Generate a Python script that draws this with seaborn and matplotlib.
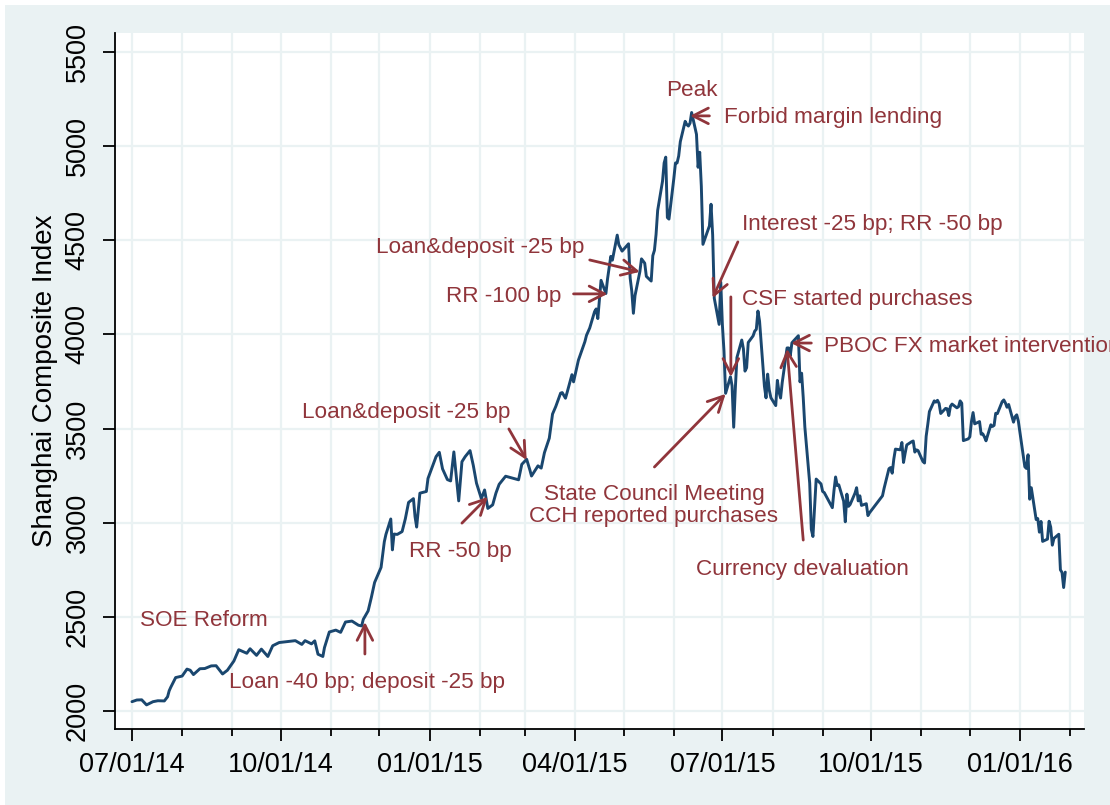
import matplotlib
matplotlib.use("Agg")
import matplotlib.pyplot as plt
import matplotlib.dates as mdates
from matplotlib.patches import Rectangle
import seaborn as sns
import pandas as pd

# ---------------- data ----------------
dates = [
    "2014-07-01", "2014-07-04", "2014-07-07", "2014-07-10", "2014-07-14", "2014-07-17", "2014-07-21",
    "2014-07-23", "2014-07-24", "2014-07-25", "2014-07-28", "2014-07-30", "2014-08-01", "2014-08-04",
    "2014-08-06", "2014-08-08", "2014-08-12", "2014-08-15", "2014-08-19", "2014-08-22", "2014-08-26",
    "2014-08-29", "2014-09-02", "2014-09-05", "2014-09-10", "2014-09-12", "2014-09-16", "2014-09-19",
    "2014-09-23", "2014-09-26", "2014-09-30", "2014-10-10", "2014-10-14", "2014-10-16", "2014-10-20",
    "2014-10-22", "2014-10-24", "2014-10-27", "2014-10-28", "2014-10-31", "2014-11-04", "2014-11-07",
    "2014-11-10", "2014-11-14", "2014-11-18", "2014-11-20", "2014-11-21", "2014-11-24", "2014-11-26",
    "2014-11-28", "2014-12-02", "2014-12-04", "2014-12-05", "2014-12-08", "2014-12-09", "2014-12-10",
    "2014-12-12", "2014-12-15", "2014-12-17", "2014-12-19", "2014-12-22", "2014-12-23", "2014-12-24",
    "2014-12-26", "2014-12-30", "2014-12-31",
    "2015-01-05", "2015-01-07", "2015-01-09", "2015-01-12", "2015-01-14", "2015-01-16", "2015-01-19",
    "2015-01-21", "2015-01-23", "2015-01-26", "2015-01-28", "2015-01-30", "2015-02-02", "2015-02-04",
    "2015-02-06", "2015-02-09", "2015-02-11", "2015-02-13", "2015-02-17", "2015-02-25", "2015-02-27",
    "2015-03-02", "2015-03-04", "2015-03-05", "2015-03-09", "2015-03-11", "2015-03-13", "2015-03-16",
    "2015-03-18", "2015-03-20", "2015-03-23", "2015-03-24", "2015-03-26", "2015-03-27", "2015-03-30",
    "2015-03-31", "2015-04-02", "2015-04-03", "2015-04-07", "2015-04-08", "2015-04-10", "2015-04-13",
    "2015-04-14", "2015-04-15", "2015-04-17", "2015-04-20", "2015-04-21", "2015-04-23", "2015-04-24",
    "2015-04-27", "2015-04-28", "2015-04-30", "2015-05-04", "2015-05-05", "2015-05-06", "2015-05-07",
    "2015-05-08", "2015-05-11", "2015-05-12", "2015-05-14", "2015-05-15", "2015-05-18", "2015-05-19",
    "2015-05-20", "2015-05-21", "2015-05-22", "2015-05-25", "2015-05-26", "2015-05-27", "2015-05-28",
    "2015-05-29", "2015-06-01", "2015-06-02", "2015-06-03", "2015-06-04", "2015-06-05", "2015-06-08",
    "2015-06-09", "2015-06-10", "2015-06-11", "2015-06-12", "2015-06-15", "2015-06-16", "2015-06-17",
    "2015-06-18", "2015-06-19", "2015-06-23", "2015-06-24", "2015-06-25", "2015-06-26", "2015-06-29",
    "2015-06-30", "2015-07-01", "2015-07-02", "2015-07-03", "2015-07-06", "2015-07-07", "2015-07-08",
    "2015-07-09", "2015-07-10", "2015-07-13", "2015-07-14", "2015-07-15", "2015-07-16", "2015-07-17",
    "2015-07-20", "2015-07-21", "2015-07-22", "2015-07-23", "2015-07-24", "2015-07-27", "2015-07-28",
    "2015-07-29", "2015-07-30", "2015-07-31", "2015-08-03", "2015-08-04", "2015-08-05", "2015-08-06",
    "2015-08-07", "2015-08-10", "2015-08-11", "2015-08-12", "2015-08-13", "2015-08-14", "2015-08-17",
    "2015-08-18", "2015-08-19", "2015-08-20", "2015-08-21", "2015-08-24", "2015-08-25", "2015-08-26",
    "2015-08-27", "2015-08-28", "2015-08-31", "2015-09-01", "2015-09-02", "2015-09-07", "2015-09-08",
    "2015-09-09", "2015-09-10", "2015-09-11", "2015-09-14", "2015-09-15", "2015-09-16", "2015-09-17",
    "2015-09-18", "2015-09-21", "2015-09-22", "2015-09-23", "2015-09-24", "2015-09-25", "2015-09-28",
    "2015-09-29", "2015-09-30", "2015-10-08", "2015-10-09", "2015-10-12", "2015-10-13", "2015-10-14",
    "2015-10-15", "2015-10-16", "2015-10-19", "2015-10-20", "2015-10-21", "2015-10-22", "2015-10-23",
    "2015-10-26", "2015-10-27", "2015-10-28", "2015-10-29", "2015-10-30", "2015-11-02", "2015-11-03",
    "2015-11-04", "2015-11-05", "2015-11-06", "2015-11-09", "2015-11-10", "2015-11-11", "2015-11-12",
    "2015-11-13", "2015-11-16", "2015-11-17", "2015-11-18", "2015-11-19", "2015-11-20", "2015-11-23",
    "2015-11-24", "2015-11-25", "2015-11-26", "2015-11-27", "2015-11-30", "2015-12-01", "2015-12-02",
    "2015-12-03", "2015-12-04", "2015-12-07", "2015-12-08", "2015-12-09", "2015-12-10", "2015-12-11",
    "2015-12-14", "2015-12-15", "2015-12-16", "2015-12-17", "2015-12-18", "2015-12-21", "2015-12-22",
    "2015-12-23", "2015-12-24", "2015-12-25", "2015-12-28", "2015-12-29", "2015-12-30", "2015-12-31",
    "2016-01-04", "2016-01-05", "2016-01-06", "2016-01-07", "2016-01-08", "2016-01-11", "2016-01-12",
    "2016-01-13", "2016-01-14", "2016-01-15", "2016-01-18", "2016-01-19", "2016-01-20", "2016-01-21",
    "2016-01-22", "2016-01-25", "2016-01-26", "2016-01-27", "2016-01-28", "2016-01-29",
]
index_values = [
    2050, 2059, 2060, 2033, 2050, 2055, 2054,
    2076, 2108, 2127, 2178, 2182, 2186, 2223,
    2217, 2194, 2225, 2226, 2240, 2241, 2197,
    2217, 2266, 2326, 2307, 2331, 2296, 2329,
    2290, 2347, 2364, 2374, 2354, 2374, 2357,
    2373, 2302, 2290, 2337, 2420, 2430, 2418,
    2473, 2478, 2456, 2452, 2487, 2532, 2604,
    2683, 2763, 2899, 2938, 3020, 2856, 2940,
    2938, 2953, 3021, 3108, 3128, 3032, 2977,
    3157, 3166, 3235,
    3351, 3374, 3286, 3229, 3222, 3376, 3116,
    3324, 3351, 3383, 3305, 3210, 3128, 3174,
    3076, 3095, 3157, 3204, 3247, 3228, 3310,
    3337, 3280, 3248, 3302, 3290, 3372, 3449,
    3577, 3617, 3688, 3691, 3661, 3691, 3786,
    3748, 3825, 3863, 3961, 3995, 4034, 4121,
    4135, 4084, 4287, 4217, 4294, 4414, 4394,
    4527, 4476, 4442, 4481, 4299, 4229, 4112,
    4206, 4333, 4401, 4378, 4308, 4283, 4418,
    4446, 4530, 4658, 4813, 4910, 4941, 4620,
    4612, 4828, 4910, 4910, 4947, 5023, 5131,
    5114, 5106, 5121, 5178, 5062, 4887, 4967,
    4786, 4478, 4576, 4691, 4528, 4192, 4053,
    4277, 4053, 3912, 3687, 3775, 3727, 3507,
    3710, 3877, 3970, 3924, 3805, 3823, 3957,
    3992, 4017, 4027, 4124, 4070, 3725, 3663,
    3789, 3705, 3664, 3622, 3756, 3695, 3662,
    3744, 3928, 3928, 3887, 3955, 3965, 3993,
    3748, 3794, 3664, 3508, 3210, 2965, 2927,
    3084, 3232, 3206, 3166, 3160, 3080, 3170,
    3243, 3197, 3201, 3114, 3005, 3152, 3087,
    3097, 3157, 3186, 3116, 3143, 3092, 3101,
    3038, 3053, 3143, 3183, 3287, 3293, 3263,
    3338, 3391, 3387, 3426, 3320, 3369, 3413,
    3430, 3434, 3375, 3387, 3383, 3325, 3317,
    3459, 3522, 3590, 3647, 3640, 3650, 3633,
    3580, 3607, 3605, 3569, 3618, 3630, 3610,
    3616, 3647, 3635, 3436, 3445, 3456, 3537,
    3585, 3525, 3537, 3470, 3472, 3456, 3435,
    3520, 3511, 3517, 3581, 3579, 3643, 3652,
    3636, 3613, 3628, 3534, 3563, 3573, 3539,
    3297, 3288, 3361, 3125, 3186, 3017, 3022,
    2950, 3007, 2901, 2913, 3008, 2977, 2881,
    2917, 2939, 2750, 2736, 2656, 2738,
]
y_ticks = [2000, 2500, 3000, 3500, 4000, 4500, 5000, 5500]
x_major_ticks = ["2014-07-01", "2014-10-01", "2015-01-01", "2015-04-01",
                 "2015-07-01", "2015-10-01", "2016-01-01"]
y_label = "Shanghai Composite Index"

# annotations: (text, text date, text value, ha, arrow tail, arrow head)
annotations = [
    ("Peak", "2015-06-12", 5266, "center", None, None),
    ("Forbid margin lending", "2015-07-02", 5123, "left",
     ("2015-06-23", 5160), ("2015-06-11", 5160)),
    ("Interest -25 bp; RR -50 bp", "2015-07-13", 4555, "left",
     ("2015-07-10 14:00", 4491), ("2015-06-25", 4193)),
    ("CSF started purchases", "2015-07-13", 4156, "left",
     ("2015-07-06 06:00", 4199), ("2015-07-06 06:00", 3774)),
    ("PBOC FX market intervention", "2015-09-01 18:00", 3907, "left",
     ("2015-08-25", 3954), ("2015-08-12 12:00", 3954)),
    ("Currency devaluation", "2015-08-19 18:00", 2722, "center",
     ("2015-08-20", 2908), ("2015-08-10", 3923)),
    ("State Council Meeting", "2015-05-19 18:00", 3121, "center", None, None),
    ("CCH reported purchases", "2015-05-19 18:00", 3004, "center",
     ("2015-05-20", 3296), ("2015-07-03", 3684)),
    ("Loan&deposit -25 bp", "2014-11-29", 4432, "left",
     ("2015-04-10", 4395), ("2015-05-11", 4332)),
    ("RR -100 bp", "2015-01-11", 4172, "left",
     ("2015-03-31", 4215), ("2015-04-21", 4215)),
    ("Loan&deposit -25 bp", "2014-10-14", 3556, "left",
     ("2015-02-19", 3498), ("2015-03-02", 3333)),
    ("RR -50 bp", "2014-12-19", 2818, "left",
     ("2015-01-21", 2998), ("2015-02-06", 3137)),
    ("SOE Reform", "2014-07-06", 2451, "left", None, None),
    ("Loan -40 bp; deposit -25 bp", "2014-08-30", 2122, "left",
     ("2014-11-22", 2303), ("2014-11-22", 2473)),
]

# ---------------- style ----------------
BG = "#EAF2F3"
NAVY = "#1A476F"
RED = "#90353B"

sns.set_theme(style="white")
plt.rcParams["font.family"] = ["Liberation Sans", "DejaVu Sans"]

df = pd.DataFrame({"date": pd.to_datetime(dates), "value": index_values})

W, H = 1110, 805
fig = plt.figure(figsize=(W / 100, H / 100), dpi=100)
fig.patch.set_facecolor("white")
fig.patches.append(Rectangle((5 / W, 0), (W - 5) / W, (H - 5) / H,
                             transform=fig.transFigure, facecolor=BG,
                             edgecolor="none", zorder=-10))

left, right, bottom, top = 115, 1084, 729, 33
ax = fig.add_axes([left / W, (H - bottom) / H, (right - left) / W, (bottom - top) / H])
ax.set_facecolor("white")

sns.lineplot(data=df, x="date", y="value", ax=ax, color=NAVY, linewidth=2.1,
             estimator=None, zorder=3)

ax.set_xlim(pd.Timestamp("2014-06-20 12:00"), pd.Timestamp("2016-02-09 14:00"))
ax.set_ylim(1905, 5600)

ax.set_yticks(y_ticks)
ax.set_yticklabels([str(t) for t in y_ticks])
ax.set_xticks(pd.to_datetime(x_major_ticks))
ax.xaxis.set_major_formatter(mdates.DateFormatter("%m/%d/%y"))
ax.xaxis.set_minor_locator(mdates.MonthLocator())

ax.grid(True, which="both", axis="x", color=BG, linewidth=1.6, zorder=0)
ax.grid(True, which="major", axis="y", color=BG, linewidth=1.6, zorder=0)
ax.set_axisbelow(True)

for s in ["top", "right"]:
    ax.spines[s].set_visible(False)
for s in ["left", "bottom"]:
    ax.spines[s].set_visible(True)
    ax.spines[s].set_color("black")
    ax.spines[s].set_linewidth(1.3)

ax.tick_params(axis="both", which="major", direction="out", length=8.5, width=1.3,
               color="black", labelsize=19.5, labelcolor="black", bottom=True, left=True)
ax.tick_params(axis="x", which="minor", direction="out", length=5, width=1.3,
               color="black", bottom=True)
ax.tick_params(axis="x", which="major", pad=8)
ax.tick_params(axis="y", which="major", pad=9, labelrotation=90)
for lab in ax.get_yticklabels():
    lab.set_va("center")

ax.set_xlabel("")
ax.set_ylabel(y_label, fontsize=20, color="black", labelpad=5)

for text, tx, ty, ha, tail, head in annotations:
    ax.text(pd.Timestamp(tx), ty, text, ha=ha, va="baseline", color=RED,
            fontsize=16.2, zorder=5, clip_on=False)
    if tail is not None:
        ax.annotate("", xy=(pd.Timestamp(head[0]), head[1]),
                    xytext=(pd.Timestamp(tail[0]), tail[1]),
                    arrowprops=dict(arrowstyle="->,head_length=0.55,head_width=0.28",
                                    color=RED, lw=2.0, shrinkA=0, shrinkB=0,
                                    mutation_scale=20),
                    zorder=6)

fig.savefig("out.png", dpi=100, facecolor=fig.get_facecolor())
